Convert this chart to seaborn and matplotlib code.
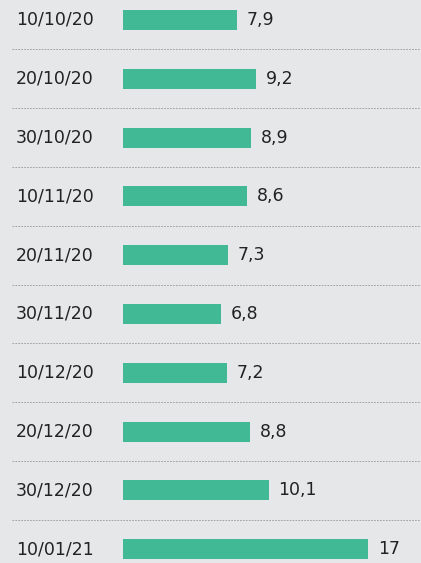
import seaborn as sns
import pandas as pd
import matplotlib.pyplot as plt

dates = ['10/10/20', '20/10/20', '30/10/20', '10/11/20', '20/11/20',
         '30/11/20', '10/12/20', '20/12/20', '30/12/20', '10/01/21']
values = [7.9, 9.2, 8.9, 8.6, 7.3, 6.8, 7.2, 8.8, 10.1, 17]
value_labels = ['7,9', '9,2', '8,9', '8,6', '7,3', '6,8', '7,2', '8,8', '10,1', '17']

df = pd.DataFrame({'data': dates, 'valor': values})

bg = '#e6e7e9'
sns.set_style('white')
plt.rcParams['font.family'] = ['DejaVu Sans']

fig = plt.figure(figsize=(4.21, 5.63), dpi=100, facecolor=bg)
ax = fig.add_axes([123 / 421, 0, 298 / 421, 1])
ax.set_facecolor(bg)

sns.barplot(data=df, y='data', x='valor', orient='h', color='#40b994',
            width=0.34, saturation=1, linewidth=0, ax=ax)

ax.set_xlim(0, 20.65)
ax.set_ylim(9.235, -0.34)

for i in range(len(dates) - 1):
    ax.axhline(i + 0.5, xmin=-0.372, xmax=1, color='#a3a3a3', lw=0.7,
               ls=(0, (1.8, 1.2)), clip_on=False)

for i, (v, lab) in enumerate(zip(values, value_labels)):
    ax.annotate(lab, (v, i), xytext=(7, 0), textcoords='offset points',
                ha='left', va='center', fontsize=12.5, color='#222222')

ax.set_xlabel('')
ax.set_ylabel('')
ax.set_xticks([])
ax.tick_params(axis='y', length=0, pad=77, labelsize=12.5, labelcolor='#222222')
for t in ax.get_yticklabels():
    t.set_ha('left')
    t.set_va('center')
sns.despine(ax=ax, left=True, bottom=True)

fig.savefig('out.png', dpi=100, facecolor=bg)
